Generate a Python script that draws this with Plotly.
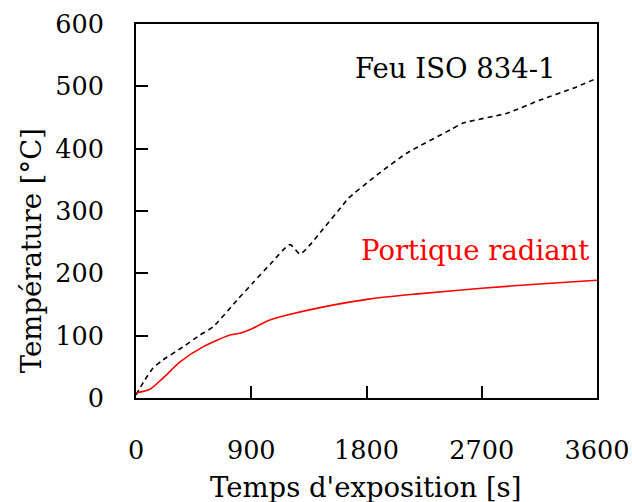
import plotly.graph_objects as go

# Exposure time [s] and temperature [°C] for the ISO 834-1 fire curve (dashed)
iso_time = [0, 60, 133, 203, 367, 500, 601, 789, 914, 1050, 1203, 1281,
            1360, 1437, 1617, 1656, 1883, 2117, 2453, 2555, 2898, 3156,
            3414, 3600]
iso_temp = [5, 26, 48, 60, 82, 101, 114, 157, 185, 215, 246, 231,
            246, 265, 310, 320, 358, 393, 430, 441, 457, 478,
            497, 513]

# Exposure time [s] and temperature [°C] under the radiant frame (solid red)
rad_time = [0, 109, 211, 344, 523, 734, 812, 914, 1031, 1180, 1437, 1828,
            2200, 2700, 3150, 3600]
rad_temp = [8, 14, 32, 58, 82, 101, 104, 112, 124, 133, 145, 159,
            167, 176, 183, 189]

x_ticks = [0, 900, 1800, 2700, 3600]
y_ticks = [0, 100, 200, 300, 400, 500, 600]

FONT = "DejaVu Serif"
TICK_SIZE = 25.5
TEXT_SIZE = 27.5

fig = go.Figure()
fig.add_trace(go.Scatter(
    x=iso_time, y=iso_temp, mode="lines", line_shape="spline",
    line=dict(color="black", width=1.6, dash="5px,4px", smoothing=0.6),
    showlegend=False))
fig.add_trace(go.Scatter(
    x=rad_time, y=rad_temp, mode="lines", line_shape="spline",
    line=dict(color="red", width=1.6, smoothing=0.7), showlegend=False))

axis_common = dict(
    showgrid=False, zeroline=False, showline=True, linecolor="black",
    linewidth=2, mirror=True, ticks="inside", ticklen=12, tickwidth=1.5,
    tickcolor="black", automargin=False,
    tickfont=dict(family=FONT, size=TICK_SIZE, color="black"))

fig.update_xaxes(range=[0, 3600], tickvals=x_ticks,
                 ticktext=[str(v) for v in x_ticks],
                 ticklabelstandoff=28, **axis_common)
fig.update_yaxes(range=[0, 600], tickvals=y_ticks,
                 ticktext=[str(v) for v in y_ticks],
                 ticklabelstandoff=25, **axis_common)

fig.add_annotation(x=2492, y=530, text="Feu ISO 834-1", showarrow=False,
                   font=dict(family=FONT, size=TEXT_SIZE, color="black"))
fig.add_annotation(x=2648, y=237, text="Portique radiant", showarrow=False,
                   font=dict(family=FONT, size=TEXT_SIZE, color="red"))

fig.add_annotation(xref="paper", yref="paper", x=0.497, y=-0.238,
                   xanchor="center", yanchor="middle",
                   text="Temps d'exposition [s]", showarrow=False,
                   font=dict(family=FONT, size=TEXT_SIZE, color="black"))
fig.add_annotation(xref="paper", yref="paper", x=-0.228, y=0.395,
                   xanchor="center", yanchor="middle",
                   text="Température [°C]", textangle=-90, showarrow=False,
                   font=dict(family=FONT, size=TEXT_SIZE, color="black"))

fig.update_layout(
    width=632, height=502,
    margin=dict(l=136, r=35, t=24, b=104, autoexpand=False),
    paper_bgcolor="white", plot_bgcolor="white")

fig.write_html("out.html")
